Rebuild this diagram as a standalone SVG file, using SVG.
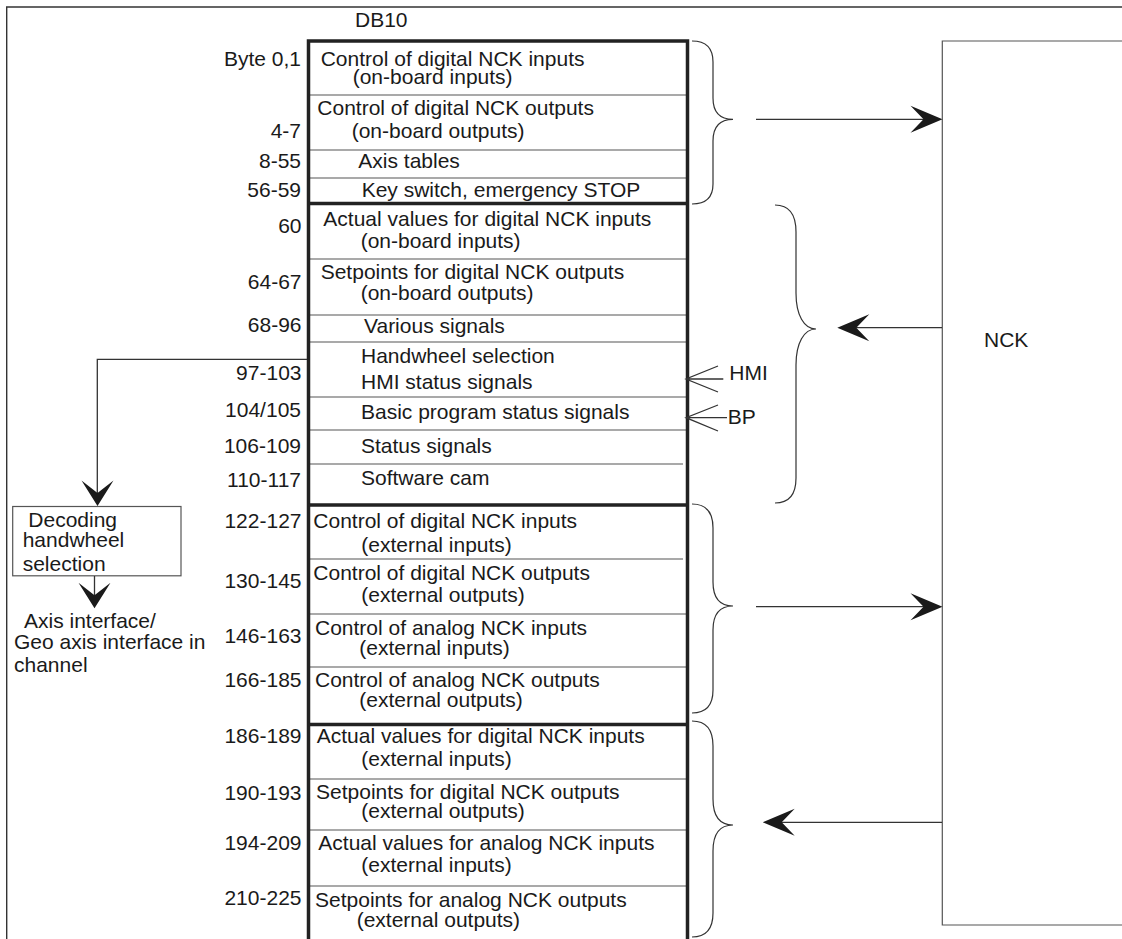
<svg xmlns="http://www.w3.org/2000/svg" width="1122" height="939" viewBox="0 0 1122 939">
<style>
text{font-family:"Liberation Sans",Arial,sans-serif;font-size:21px;fill:#1a1a1a}
.lbl{text-anchor:end}
.thin{stroke:#555;stroke-width:1.2;fill:none}
.thick{stroke:#222;stroke-width:3.5;fill:none}
.frame{stroke:#333;stroke-width:1.4;fill:none}
.brace{stroke:#333;stroke-width:1.2;fill:none}
.conn{stroke:#333;stroke-width:1.3;fill:none}
.head{fill:#1a1a1a;stroke:none}
</style>
<defs>
<path id="ahR" d="M0,0 L-32,-13.5 L-19,0 L-32,13.5 Z"/>
<path id="ahD" d="M0,0 L-16,-25.5 L0,-13 L16,-25.5 Z"/>
</defs>
<rect width="1122" height="939" fill="#fff"/>
<g id="frame">
<path class="frame" d="M6.7,939 L6.7,7 L1122,7"/>
</g>
<g id="title"><text x="355" y="26.5">DB10</text></g>
<g id="table">
<path class="thin" d="M308,95 H686 M308,150 H686 M308,178 H686 M308,259 H686 M308,315 H686 M308,342 H686 M308,397 H686 M308,430 H686 M308,464 H683 M308,559 H683 M308,614 H686 M308,667 H686 M308,779 H686 M308,830 H686 M308,886 H686"/>
<path class="thick" d="M308.5,939 V41 H687.5 V939"/>
<path class="thick" d="M308,203.5 H687.5 M308,505 H687.5 M308,724.5 H687.5"/>
</g>
<g id="labels">
<text class="lbl" x="301" y="65.7">Byte 0,1</text>
<text class="lbl" x="301" y="137.7">4-7</text>
<text class="lbl" x="301" y="168.3">8-55</text>
<text class="lbl" x="301" y="196.7">56-59</text>
<text class="lbl" x="301.5" y="233.3">60</text>
<text class="lbl" x="301.5" y="289.3">64-67</text>
<text class="lbl" x="301.5" y="332.3">68-96</text>
<text class="lbl" x="301.5" y="380">97-103</text>
<text class="lbl" x="301" y="416.7">104/105</text>
<text class="lbl" x="301" y="453">106-109</text>
<text class="lbl" x="301" y="486.7">110-117</text>
<text class="lbl" x="301.5" y="527.7">122-127</text>
<text class="lbl" x="301.5" y="588.3">130-145</text>
<text class="lbl" x="301.5" y="643.3">146-163</text>
<text class="lbl" x="301.5" y="686.7">166-185</text>
<text class="lbl" x="301.5" y="743.3">186-189</text>
<text class="lbl" x="301.5" y="800">190-193</text>
<text class="lbl" x="301.5" y="850">194-209</text>
<text class="lbl" x="301.5" y="905">210-225</text>
</g>
<g id="cells">
<text x="320.7" y="65.7">Control of digital NCK inputs</text>
<text x="352.7" y="83.5">(on-board inputs)</text>
<text x="317.3" y="114.5">Control of digital NCK outputs</text>
<text x="351.7" y="137.7">(on-board outputs)</text>
<text x="358.3" y="168.3">Axis tables</text>
<text x="361.7" y="196.7">Key switch, emergency STOP</text>
<text x="323.3" y="226">Actual values for digital NCK inputs</text>
<text x="360.7" y="248.3">(on-board inputs)</text>
<text x="320.7" y="278.7">Setpoints for digital NCK outputs</text>
<text x="360.7" y="300">(on-board outputs)</text>
<text x="364" y="333.3">Various signals</text>
<text x="361" y="363.3">Handwheel selection</text>
<text x="361" y="388.7">HMI status signals</text>
<text x="361" y="419">Basic program status signals</text>
<text x="361" y="453.3">Status signals</text>
<text x="361" y="485">Software cam</text>
<text x="313.3" y="527.7">Control of digital NCK inputs</text>
<text x="361.3" y="551.5">(external inputs)</text>
<text x="313.3" y="580">Control of digital NCK outputs</text>
<text x="361.3" y="601.7">(external outputs)</text>
<text x="315" y="635">Control of analog NCK inputs</text>
<text x="359.3" y="655">(external inputs)</text>
<text x="315" y="686.7">Control of analog NCK outputs</text>
<text x="359.3" y="706.5">(external outputs)</text>
<text x="316.7" y="743.3">Actual values for digital NCK inputs</text>
<text x="361.3" y="765.5">(external inputs)</text>
<text x="316" y="799">Setpoints for digital NCK outputs</text>
<text x="361.3" y="818.3">(external outputs)</text>
<text x="318.3" y="850">Actual values for analog NCK inputs</text>
<text x="361.3" y="871.7">(external inputs)</text>
<text x="315" y="906.7">Setpoints for analog NCK outputs</text>
<text x="356.7" y="926.7">(external outputs)</text>
</g>
<g id="braces">
<path class="brace" d="M692,41 C706,41 713,48 713,62 L713,98 C713,112 720,119.3 733,119.3 C720,119.3 713,127 713,141 L713,184 C713,198 706,204 692,204"/>
<path class="brace" d="M775,205 C789,205 796,214 796,232 L796,293 C796,315 804,329 816,329 C804,329 796,343 796,365 L796,478 C796,494 789,503 775,503"/>
<path class="brace" d="M692,504 C706,504 713,512 713,528 L713,582 C713,598 720,606 733,606 C720,606 713,614 713,630 L713,690 C713,705 706,713 692,713"/>
<path class="brace" d="M692,721 C706,721 713,729 713,746 L713,799 C713,816 720,825 733,825 C720,825 713,834 713,851 L713,913 C713,929 706,937 692,937"/>
</g>
<g id="nck">
<path class="thin" d="M1122,41 H942.3 V925 H1122"/>
<text x="984" y="346.7">NCK</text>
</g>
<g id="decoding">
<rect x="12.7" y="506.5" width="168.3" height="69.3" class="thin"/>
<text x="28.3" y="526.7">Decoding</text>
<text x="22.7" y="546.7">handwheel</text>
<text x="22.7" y="570.7">selection</text>
</g>
<g id="axis-interface">
<text x="24" y="627.7">Axis interface/</text>
<text x="14" y="649">Geo axis interface in</text>
<text x="14" y="671.7">channel</text>
</g>
<g id="hmi-bp">
<text x="729.3" y="380">HMI</text>
<text x="727.7" y="424">BP</text>
</g>
<g id="connectors">
<path class="conn" d="M756,119.3 H925"/>
<use href="#ahR" class="head" transform="translate(942.5,119.3)"/>
<path class="conn" d="M942,327.7 H855"/>
<use href="#ahR" class="head" transform="translate(837.3,327.7) rotate(180)"/>
<path class="conn" d="M756,606.7 H925"/>
<use href="#ahR" class="head" transform="translate(942.5,606.7)"/>
<path class="conn" d="M942,822.3 H780"/>
<use href="#ahR" class="head" transform="translate(762.7,822.3) rotate(180)"/>
<path class="conn" d="M723.3,379 H686 M718,366 L686,379 L718,392"/>
<path class="conn" d="M727,417.7 H686 M718,405 L686,417.7 L718,431"/>
<path class="conn" d="M307,359.3 H97.3 V495"/>
<use href="#ahD" class="head" transform="translate(97.5,506)"/>
<path class="conn" d="M94.5,576 V597"/>
<use href="#ahD" class="head" transform="translate(94.5,608.3)"/>
</g>
</svg>
